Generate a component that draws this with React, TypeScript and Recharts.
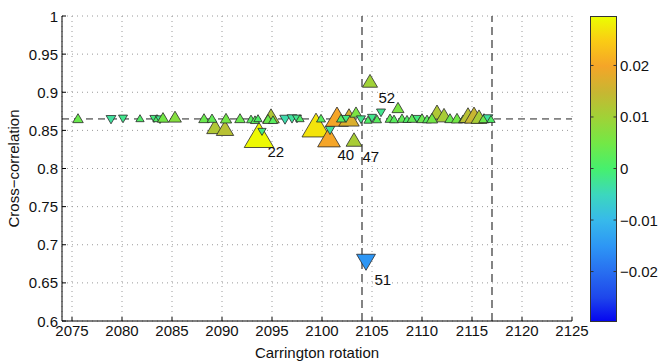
import {
  ScatterChart,
  Scatter,
  XAxis,
  YAxis,
  CartesianGrid,
  ReferenceLine,
  Label,
} from 'recharts';

// Carrington rotation of each event
const rotation = [
  2075.6, 2078.9, 2080.1, 2081.8, 2083.2, 2083.5, 2083.8, 2084.1, 2085.3,
  2088.2, 2089.3, 2090.3, 2089.0, 2090.4, 2091.8, 2092.9, 2093.7, 2093.3, 2093.6,
  2094.0, 2094.9, 2094.6, 2095.1, 2096.3, 2097.0, 2097.5,
  2097.8, 2099.4, 2099.9, 2100.7, 2100.8, 2101.5, 2102.7, 2103.4, 2103.2, 2101.9,
  2102.4, 2103.9, 2104.4, 2104.8, 2104.6, 2105.0, 2105.5, 2105.9, 2106.8, 2107.6,
  2107.2, 2108.0, 2108.5, 2109.0, 2109.5, 2110.0, 2110.5, 2111.5, 2112.2, 2111.0,
  2112.8, 2113.5, 2114.1, 2114.6, 2115.2, 2115.7, 2116.2, 2116.6, 2116.9,
];

const correlation = [
  0.866, 0.864, 0.865, 0.866, 0.865, 0.866, 0.864, 0.867, 0.868,
  0.866, 0.855, 0.853, 0.866, 0.866, 0.866, 0.865, 0.844, 0.864, 0.866,
  0.848, 0.869, 0.865, 0.864, 0.864, 0.865, 0.865,
  0.866, 0.857, 0.866, 0.841, 0.85, 0.868, 0.867, 0.874, 0.838, 0.866,
  0.865, 0.864, 0.677, 0.915, 0.864, 0.866, 0.865, 0.873, 0.866, 0.88,
  0.865, 0.866, 0.865, 0.866, 0.865, 0.866, 0.865, 0.874, 0.87, 0.866,
  0.866, 0.866, 0.865, 0.87, 0.87, 0.868, 0.866, 0.865, 0.865,
];

// colour-coded quantity (colorbar)
const shift = [
  0.004, -0.003, -0.002, 0.001, -0.001, 0.001, -0.002, 0.005, 0.007,
  0.004, 0.012, 0.013, 0.003, 0.005, 0.004, 0.002, 0.029, 0.002, 0.001,
  -0.001, 0.012, 0.004, 0.002, -0.004, -0.003, -0.002,
  0.001, 0.027, 0.002, 0.02, -0.003, 0.02, 0.017, 0.006, 0.011, 0.002,
  -0.001, -0.002, -0.015, 0.01, 0.001, -0.002, 0.002, -0.002, 0.003, 0.006,
  0.002, 0.003, 0.001, 0.003, -0.001, 0.004, 0.002, 0.012, 0.011, 0.005,
  0.004, 0.005, 0.002, 0.013, 0.015, 0.011, 0.004, -0.003, 0.001,
];

const tagIndex = [16, 29, 34, 38, 39];
const tagText = ['22', '40', '47', '51', '52'];

const xTicks = [2075, 2080, 2085, 2090, 2095, 2100, 2105, 2110, 2115, 2120, 2125];
const yTicks = [0.6, 0.65, 0.7, 0.75, 0.8, 0.85, 0.9, 0.95, 1];
const yTickLabels = ['0.6', '0.65', '0.7', '0.75', '0.8', '0.85', '0.9', '0.95', '1'];
const cbarTicks = [-0.02, -0.01, 0, 0.01, 0.02];
const cbarTickLabels = ['\u22120.02', '\u22120.01', '0', '0.01', '0.02'];

const meanCorrelation = 0.865;
const markedRotations = [2104, 2117];

const CB_MAX = 0.0296;
const FONT = '"Liberation Sans", Arial, Helvetica, sans-serif';
const TEXT = '#111';

const colorStops: [number, number[]][] = [
  [-0.0296, [5, 5, 240]],
  [-0.025, [30, 70, 235]],
  [-0.02, [40, 110, 240]],
  [-0.015, [45, 150, 245]],
  [-0.01, [55, 185, 235]],
  [-0.005, [60, 215, 190]],
  [0, [70, 240, 110]],
  [0.005, [115, 232, 70]],
  [0.01, [160, 210, 55]],
  [0.015, [200, 182, 50]],
  [0.02, [245, 165, 40]],
  [0.025, [250, 205, 20]],
  [0.0296, [235, 255, 0]],
];

function colorFor(v: number) {
  const c = Math.max(-CB_MAX, Math.min(CB_MAX, v));
  for (let i = 0; i < colorStops.length - 1; i++) {
    const [a, ca] = colorStops[i];
    const [b, cb] = colorStops[i + 1];
    if (c <= b) {
      const t = (c - a) / (b - a);
      const rgb = ca.map((x, k) => Math.round(x + (cb[k] - x) * t));
      return `rgb(${rgb.join(',')})`;
    }
  }
  return 'rgb(235,255,0)';
}

const points = rotation.map((x, i) => ({
  x,
  y: correlation[i],
  c: shift[i],
  tag: tagIndex.includes(i) ? tagText[tagIndex.indexOf(i)] : '',
}));

function Triangle(props: any) {
  const { cx, cy, payload } = props;
  if (cx == null || cy == null) return null;
  const w = 7.5 + 760 * Math.abs(payload.c);
  const h = 0.85 * w;
  const up = payload.c >= 0;
  const pts = up
    ? `${cx - w / 2},${cy + h / 2} ${cx + w / 2},${cy + h / 2} ${cx},${cy - h / 2}`
    : `${cx - w / 2},${cy - h / 2} ${cx + w / 2},${cy - h / 2} ${cx},${cy + h / 2}`;
  return (
    <g>
      <polygon points={pts} fill={colorFor(payload.c)} stroke="#2a2a2a" strokeWidth={0.8} />
      {payload.tag && (
        <text
          x={cx + 8.5}
          y={cy + 17}
          dominantBaseline="central"
          fontSize={15}
          fontFamily={FONT}
          fill={TEXT}
        >
          {payload.tag}
        </text>
      )}
    </g>
  );
}

function XTick(props: any) {
  const { x, y, payload } = props;
  return (
    <g>
      <line x1={x} x2={x} y1={y} y2={y - 4} stroke="#000" />
      <text x={x} y={y + 9} textAnchor="middle" dominantBaseline="central" fontSize={15} fontFamily={FONT} fill={TEXT}>
        {payload.value}
      </text>
    </g>
  );
}

function YTick(props: any) {
  const { x, y, payload } = props;
  const i = yTicks.indexOf(payload.value);
  return (
    <g>
      <line x1={x} x2={x + 4} y1={y} y2={y} stroke="#000" />
      <text x={x - 4} y={y} textAnchor="end" dominantBaseline="central" fontSize={15} fontFamily={FONT} fill={TEXT}>
        {i >= 0 ? yTickLabels[i] : payload.value}
      </text>
    </g>
  );
}

function Colorbar() {
  const h = 305;
  const w = 26;
  const toY = (v: number) => ((CB_MAX - v) / (2 * CB_MAX)) * h;
  return (
    <svg
      width={80}
      height={h + 2}
      style={{ position: 'absolute', left: 590, top: 16, overflow: 'visible' }}
    >
      <defs>
        <linearGradient id="cbar" x1="0" y1="1" x2="0" y2="0">
          {colorStops.map(([v, rgb]) => (
            <stop
              key={v}
              offset={(v + CB_MAX) / (2 * CB_MAX)}
              stopColor={`rgb(${rgb.join(',')})`}
            />
          ))}
        </linearGradient>
      </defs>
      <rect x={0.5} y={0.5} width={w} height={h} fill="url(#cbar)" stroke="#333" />
      {cbarTicks.map((v, i) => (
        <g key={v}>
          <line x1={0.5} x2={3.5} y1={toY(v)} y2={toY(v)} stroke="#333" />
          <line x1={w + 0.5} x2={w - 2.5} y1={toY(v)} y2={toY(v)} stroke="#333" />
          <text
            x={w + 4}
            y={toY(v)}
            dominantBaseline="central"
            fontSize={15}
            fontFamily={FONT}
            fill={TEXT}
          >
            {cbarTickLabels[i]}
          </text>
        </g>
      ))}
    </svg>
  );
}

export default function App() {
  return (
    <div style={{ position: 'absolute', left: 0, top: 0, width: 665, height: 363, background: '#fff' }}>
      <ScatterChart width={665} height={363} margin={{ top: 16, right: 93, bottom: 0, left: 0 }}>
        <CartesianGrid stroke="#9a9a9a" strokeDasharray="1 4" />
        <XAxis
          type="number"
          dataKey="x"
          domain={[2074, 2125]}
          ticks={xTicks}
          allowDataOverflow
          height={42}
          tickSize={0}
          tickMargin={0}
          tickLine={false}
          axisLine={{ stroke: '#000' }}
          tick={(p: any) => <XTick {...p} />}
        >
          <Label
            content={({ viewBox }: any) => (
              <text
                x={viewBox.x + viewBox.width / 2}
                y={viewBox.y + 31}
                textAnchor="middle"
                dominantBaseline="central"
                fontSize={15}
                fontFamily={FONT}
                fill={TEXT}
              >
                Carrington rotation
              </text>
            )}
          />
        </XAxis>
        <YAxis
          type="number"
          dataKey="y"
          domain={[0.6, 1]}
          ticks={yTicks}
          allowDataOverflow
          width={62}
          tickSize={0}
          tickMargin={0}
          tickLine={false}
          axisLine={{ stroke: '#000' }}
          tick={(p: any) => <YTick {...p} />}
        >
          <Label
            content={({ viewBox }: any) => {
              const cx = 13;
              const cy = viewBox.y + viewBox.height / 2;
              return (
                <text
                  x={cx}
                  y={cy}
                  transform={`rotate(-90 ${cx} ${cy})`}
                  textAnchor="middle"
                  dominantBaseline="central"
                  fontSize={15}
                  fontFamily={FONT}
                  fill={TEXT}
                >
                  Cross{'\u2212'}correlation
                </text>
              );
            }}
          />
        </YAxis>
        <ReferenceLine y={meanCorrelation} stroke="#222" strokeDasharray="7 5" />
        {markedRotations.map((r) => (
          <ReferenceLine key={r} x={r} stroke="#333" strokeWidth={1.2} strokeDasharray="8 5" />
        ))}
        <Scatter data={points} shape={Triangle} isAnimationActive={false} />
      </ScatterChart>
      <Colorbar />
    </div>
  );
}
